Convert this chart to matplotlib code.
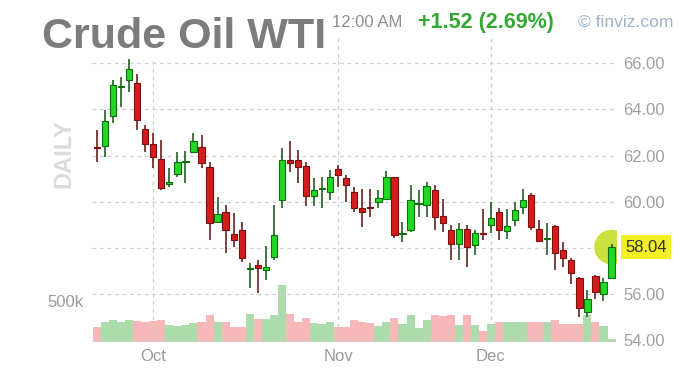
import numpy as np
import matplotlib
matplotlib.use("Agg")
import matplotlib.pyplot as plt
from matplotlib.transforms import blended_transform_factory

plt.rcParams['font.family'] = ['Liberation Sans', 'DejaVu Sans']

# ---------------- data ----------------
opens = [62.38, 62.41, 63.71, 64.98, 65.29, 65.15, 63.13, 62.49, 61.83, 60.76,
         61.19, 61.71, 62.16, 62.38, 61.51, 59.13, 59.56, 58.60, 58.77, 57.09,
         57.26, 57.04, 57.62, 60.07, 61.80, 61.80, 61.54, 60.24, 60.55, 60.43,
         61.40, 61.01, 60.43, 59.75, 59.77, 60.00, 60.14, 61.05, 58.61, 58.77,
         59.91, 59.85, 60.50, 59.38, 58.77, 58.16, 58.84, 58.12, 58.65, 58.99,
         59.56, 58.74, 59.20, 59.78, 60.29, 58.84, 58.39, 58.94, 57.90, 57.47,
         56.68, 55.24, 56.78, 56.00, 56.68]
highs = [63.10, 63.97, 65.26, 65.41, 66.45, 65.51, 63.32, 62.96, 62.67, 61.44,
         62.16, 62.19, 62.96, 62.88, 61.73, 60.21, 59.85, 59.50, 59.13, 57.33,
         57.47, 58.08, 59.85, 62.31, 62.64, 62.23, 61.73, 61.01, 61.08, 61.37,
         61.58, 61.15, 60.65, 60.57, 60.57, 60.50, 61.34, 61.05, 59.13, 60.72,
         60.50, 60.86, 60.72, 60.10, 58.99, 59.06, 58.99, 58.77, 59.67, 60.00,
         59.71, 59.67, 60.00, 60.57, 60.36, 59.23, 59.06, 58.99, 58.26, 57.55,
         56.75, 56.17, 56.82, 56.68, 58.16]
lows = [61.73, 61.94, 63.40, 64.11, 64.76, 63.10, 62.16, 61.44, 60.50, 60.65,
        61.08, 60.82, 62.09, 61.44, 58.34, 59.07, 57.77, 58.05, 57.40, 56.25,
        56.03, 56.61, 57.47, 59.71, 61.29, 60.79, 59.81, 59.81, 59.71, 60.07,
        60.65, 59.99, 59.56, 58.91, 59.35, 59.71, 60.07, 58.41, 58.26, 58.70,
        59.35, 59.35, 58.77, 58.70, 57.47, 57.47, 57.18, 57.69, 58.34, 58.63,
        58.34, 58.37, 58.94, 59.49, 58.77, 58.26, 57.69, 57.04, 57.18, 56.46,
        55.02, 55.02, 55.81, 55.71, 56.68]
closes = [62.34, 63.49, 65.05, 65.03, 65.74, 63.53, 62.52, 61.92, 60.58, 60.86,
          61.73, 61.75, 62.62, 61.66, 59.06, 59.46, 58.77, 58.34, 57.55, 57.13,
          57.11, 57.18, 58.55, 61.80, 61.66, 61.51, 60.24, 60.50, 60.59, 61.05,
          61.15, 60.72, 59.71, 59.56, 59.73, 60.17, 61.05, 58.55, 58.65, 60.07,
          59.95, 60.68, 59.35, 59.09, 58.16, 58.84, 58.05, 58.63, 58.61, 59.28,
          58.77, 58.94, 59.63, 60.07, 58.91, 58.31, 58.43, 57.76, 57.55, 56.92,
          55.38, 55.81, 56.10, 56.52, 58.04]
volumes = [188e3, 241e3, 263e3, 250e3, 263e3, 254e3, 241e3, 254e3, 263e3, 209e3,
           191e3, 213e3, 234e3, 241e3, 325e3, 241e3, 241e3, 188e3, 188e3, 346e3,
           284e3, 284e3, 334e3, 700e3, 346e3, 241e3, 296e3, 229e3, 221e3, 241e3,
           179e3, 179e3, 263e3, 241e3, 229e3, 200e3, 241e3, 296e3, 221e3, 325e3,
           166e3, 271e3, 325e3, 313e3, 325e3, 209e3, 325e3, 209e3, 138e3, 221e3,
           241e3, 241e3, 241e3, 241e3, 241e3, 241e3, 241e3, 271e3, 221e3, 221e3,
           221e3, 325e3, 241e3, 200e3, 34e3]
month_pos = [7, 30, 49]
month_labels = ['Oct', 'Nov', 'Dec']
price_ticks = [54, 56, 58, 60, 62, 64, 66]
vol_ticks = [500000]
vol_tick_labels = ['500k']
title = 'Crude Oil WTI'
time_text = '12:00 AM'
change_text = '+1.52 (2.69%)'
credit_text = '\u00a9 finviz.com'

# ---------------- figure ----------------
W, H = 700, 378
fig = plt.figure(figsize=(W / 100, H / 100), dpi=100)
fig.patch.set_facecolor('white')
rect = [92 / W, (H - 342) / H, 525 / W, 307 / H]
ax = fig.add_axes(rect)
ax_vol = ax.twinx()

o = np.array(opens); h = np.array(highs); l = np.array(lows); c = np.array(closes)
x = np.arange(len(o))
up = c >= o

# volume
vcol = np.where(up, '#acdcac', '#f6b8b8')
ax_vol.bar(x, volumes, width=1.0, color=vcol, linewidth=0, zorder=1)
ax_vol.set_ylim(0, 500000 * 307 / 41)
ax_vol.set_yticks(vol_ticks)
ax_vol.set_yticklabels(vol_tick_labels)
ax_vol.yaxis.tick_left()
ax_vol.tick_params(axis='y', length=0, pad=6, labelsize=12, labelcolor='#9a9a9a')
for s in ax_vol.spines.values():
    s.set_visible(False)

# price axes on top
ax.set_zorder(ax_vol.get_zorder() + 1)
ax.patch.set_visible(False)
ax.yaxis.tick_right()

ax.scatter([x[-1]], [c[-1]], s=620, color='#c6de2a', alpha=0.9,
           edgecolors='none', zorder=1.5)

wick = np.where(up, '#0f4f0f', '#5a0d0d')
ax.vlines(x, l, h, colors=wick, linewidth=1.1, zorder=2)
body_h = np.maximum(np.abs(c - o), 0.035)
ax.bar(x, body_h, bottom=np.minimum(o, c), width=0.78,
       color=np.where(up, '#22d822', '#d41c1c'),
       edgecolor=np.where(up, '#0e6e0e', '#7a1010'), linewidth=0.8, zorder=3)

last = c[-1]
ax.set_xlim(-0.62, 64.68)
ax.set_ylim(53.927, 67.22)
ax.set_yticks(price_ticks)
# the tick next to the last-price box is hidden, as in the reference
ax.set_yticklabels(['' if abs(v - last) < 0.6 else f'{v:.2f}' for v in price_ticks])
ax.set_xticks(month_pos)
ax.set_xticklabels(month_labels)
ax.tick_params(axis='y', length=0, pad=4.5, labelsize=12, labelcolor='#a0a0a0')
ax.tick_params(axis='x', length=0, pad=5, labelsize=12, labelcolor='#9a9a9a')
ax.grid(True, color='#cfcfcf', linestyle=(0, (3, 3)), linewidth=0.9)
ax.set_axisbelow(True)
for s in ax.spines.values():
    s.set_visible(False)

# last price label
tr = blended_transform_factory(ax.transAxes, ax.transData)
ax.annotate(f'{last:.2f}', xy=(1.0, last), xycoords=tr,
            xytext=(6, 0), textcoords='offset points', va='center', ha='left',
            fontsize=12, color='#333333', zorder=6,
            bbox=dict(boxstyle='square,pad=0.25', facecolor='#f2ef22', edgecolor='none'))

# header texts
fig.text(42 / W, 1 - 48 / H, title, fontsize=31, fontweight='bold', color='#7c7c7c',
         va='baseline', ha='left',
         bbox=dict(boxstyle='square,pad=0.05', facecolor='white', edgecolor='none'))
fig.text(332 / W, 1 - 27 / H, time_text, fontsize=12, color='#8e8e8e',
         va='baseline', ha='left')
fig.text(418 / W, 1 - 28 / H, change_text, fontsize=15.5, fontweight='bold',
         color='#34a834', va='baseline', ha='left')
fig.text(578 / W, 1 - 27 / H, credit_text, fontsize=12.5, color='#9fb4c8',
         va='baseline', ha='left')
fig.text(64 / W, 1 - 154 / H, 'DAILY', fontsize=17, fontweight='bold', color='#dcdcdc',
         rotation=90, va='center', ha='center')

fig.savefig('out.png', dpi=100, facecolor='white')
